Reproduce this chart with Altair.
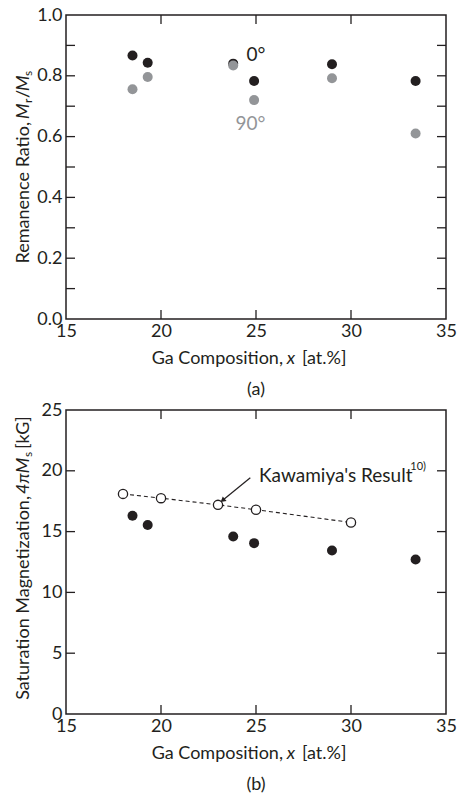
import altair as alt
import pandas as pd

FONT = "Lato"
INK = "#231f20"
GRAY = "#939598"
W, H = 380, 304
FS = 18
TICK = 9

# Ga content of the films [at.%]
ga_films = [18.5, 19.3, 23.8, 24.9, 29.0, 33.4]
# Remanence ratio Mr/Ms measured with the field at 0° and at 90°
ratio_0deg = [0.867, 0.843, 0.840, 0.783, 0.838, 0.783]
ratio_90deg = [0.756, 0.796, 0.834, 0.720, 0.792, 0.610]
# Saturation magnetization 4πMs [kG] of the films
ms_films = [16.3, 15.55, 14.6, 14.05, 13.45, 12.7]
# Kawamiya's bulk values
ga_kawamiya = [18.0, 20.0, 23.0, 25.0, 30.0]
ms_kawamiya = [18.1, 17.75, 17.2, 16.8, 15.75]

# Axis labels and inward frame ticks
x_labels = [15, 20, 25, 30, 35]
x_inner_ticks = [20, 25, 30]
ya_labels = [0.0, 0.2, 0.4, 0.6, 0.8, 1.0]
ya_inner_ticks = [0.1, 0.2, 0.3, 0.4, 0.5, 0.6, 0.7, 0.8, 0.9]
yb_labels = [0, 5, 10, 15, 20, 25]
yb_inner_ticks = [5, 10, 15, 20]

x_scale = alt.Scale(domain=[15, 35], nice=False, zero=False)
ya_scale = alt.Scale(domain=[0, 1], nice=False, zero=False)
yb_scale = alt.Scale(domain=[0, 25], nice=False, zero=False)

axis_style = dict(
    title=None, ticks=False, tickSize=0, domain=False, grid=False,
    labelFlush=False, labelOverlap=False, labelFont=FONT,
    labelFontSize=FS, labelColor=INK,
)
x_axis = alt.Axis(values=x_labels, format="d", labelPadding=3, **axis_style)
ya_axis = alt.Axis(values=ya_labels, format=".1f", labelPadding=4, **axis_style)
yb_axis = alt.Axis(values=yb_labels, format="d", labelPadding=4, **axis_style)


def X(field="ga"):
    return alt.X(f"{field}:Q", scale=x_scale, axis=x_axis)


def Ya(field="v"):
    return alt.Y(f"{field}:Q", scale=ya_scale, axis=ya_axis)


def Yb(field="v"):
    return alt.Y(f"{field}:Q", scale=yb_scale, axis=yb_axis)


def frame_ticks(yenc, y_ticks):
    xt = pd.DataFrame({"ga": x_inner_ticks})
    yt = pd.DataFrame({"v": y_ticks})
    style = dict(color=INK, strokeWidth=1.3)
    return [
        alt.Chart(xt).mark_rule(**style).encode(x=X(), y=alt.value(H), y2=alt.value(H - TICK)),
        alt.Chart(xt).mark_rule(**style).encode(x=X(), y=alt.value(0), y2=alt.value(TICK)),
        alt.Chart(yt).mark_rule(**style).encode(y=yenc(), x=alt.value(0), x2=alt.value(TICK)),
        alt.Chart(yt).mark_rule(**style).encode(y=yenc(), x=alt.value(W - TICK), x2=alt.value(W)),
    ]


def note(text, x, y, size=FS, color=INK, **kw):
    """Text placed in pixel units of the panel."""
    return alt.Chart(pd.DataFrame({"t": [text]})).mark_text(
        font=FONT, fontSize=size, color=color, **kw
    ).encode(x=alt.value(x), y=alt.value(y), text="t:N")


def data_note(text, ga, v, yenc, size=FS, color=INK, **kw):
    """Text placed at data coordinates."""
    return alt.Chart(pd.DataFrame({"t": [text], "ga": [ga], "v": [v]})).mark_text(
        font=FONT, fontSize=size, color=color, **kw
    ).encode(x=X(), y=yenc(), text="t:N")


def x_title():
    return [
        note("Ga Composition,", 217, 344, align="right", baseline="middle"),
        note("x", 225, 344, align="center", baseline="middle", fontStyle="italic"),
        note("[at.%]", 236, 344, align="left", baseline="middle"),
    ]


TX = -37  # baseline of the rotated y titles
rot = dict(angle=270, baseline="alphabetic")

# ---------------- panel (a): remanence ratio ----------------
rem = pd.DataFrame({"ga": ga_films, "r0": ratio_0deg, "r90": ratio_90deg})
pts0 = alt.Chart(rem).mark_circle(size=100, color=INK, opacity=1).encode(x=X(), y=Ya("r0"))
pts90 = alt.Chart(rem).mark_circle(size=100, color=GRAY, opacity=1).encode(x=X(), y=Ya("r90"))

panel_a = alt.layer(
    *frame_ticks(Ya, ya_inner_ticks),
    pts0,
    pts90,
    data_note("0°", 25.0, 0.867, Ya, size=19, align="center", baseline="middle"),
    data_note("90°", 24.71, 0.640, Ya, size=19, color=GRAY, align="center", baseline="middle"),
    note("Remanence Ratio,", TX, 107, align="right", **rot),
    note("M", TX, 104, align="left", fontStyle="italic", **rot),
    note("r", TX + 3, 88, size=12, align="left", **rot),
    note("/", TX, 83, align="left", **rot),
    note("M", TX, 76, align="left", fontStyle="italic", **rot),
    note("s", TX + 3, 61, size=12, align="left", **rot),
    *x_title(),
    note("(a)", 190, 375, align="center", baseline="middle"),
).properties(width=W, height=H)

# ---------------- panel (b): saturation magnetization ----------------
sat = pd.DataFrame({"ga": ga_films, "v": ms_films})
kaw = pd.DataFrame({"ga": ga_kawamiya, "v": ms_kawamiya})

kaw_line = alt.Chart(kaw).mark_line(color=INK, strokeWidth=1.1, strokeDash=[4, 3]).encode(x=X(), y=Yb())
kaw_pts = alt.Chart(kaw).mark_point(
    shape="circle", filled=True, fill="white", stroke=INK, strokeWidth=1.3, size=85, opacity=1
).encode(x=X(), y=Yb())
sat_pts = alt.Chart(sat).mark_circle(size=100, color=INK, opacity=1).encode(x=X(), y=Yb())

arrow = pd.DataFrame({"ga": [24.70], "v": [19.43], "ga2": [23.28], "v2": [17.615]})
arrow_line = alt.Chart(arrow).mark_rule(color=INK, strokeWidth=1.2).encode(
    x=X(), y=Yb(), x2="ga2:Q", y2="v2:Q"
)
arrow_head = alt.Chart(arrow).mark_point(
    shape="triangle", filled=True, size=36, angle=230.7, color=INK, opacity=1
).encode(x=X("ga2"), y=Yb("v2"))

panel_b = alt.layer(
    *frame_ticks(Yb, yb_inner_ticks),
    kaw_line,
    sat_pts,
    kaw_pts,
    arrow_line,
    arrow_head,
    data_note("Kawamiya's Result", 25.16, 19.57, Yb, size=19, align="left", baseline="middle"),
    data_note("10)", 33.12, 20.3, Yb, size=11, align="left", baseline="middle"),
    note("Saturation Magnetization,", TX, 86, align="right", **rot),
    note("4πM", TX, 84, align="left", fontStyle="italic", **rot),
    note("s", TX + 3, 47, size=12, align="left", **rot),
    note("[kG]", TX, 39, align="left", **rot),
    *x_title(),
    note("(b)", 190, 375, align="center", baseline="middle"),
).properties(width=W, height=H)

chart = (
    alt.vconcat(panel_a, panel_b, spacing=0)
    .properties(padding={"left": 14, "top": 5, "right": 0, "bottom": 0}, background="white")
    .configure_view(stroke=INK, strokeWidth=1.5)
)

chart.save("out.html", embed_options={"renderer": "svg", "actions": False})
